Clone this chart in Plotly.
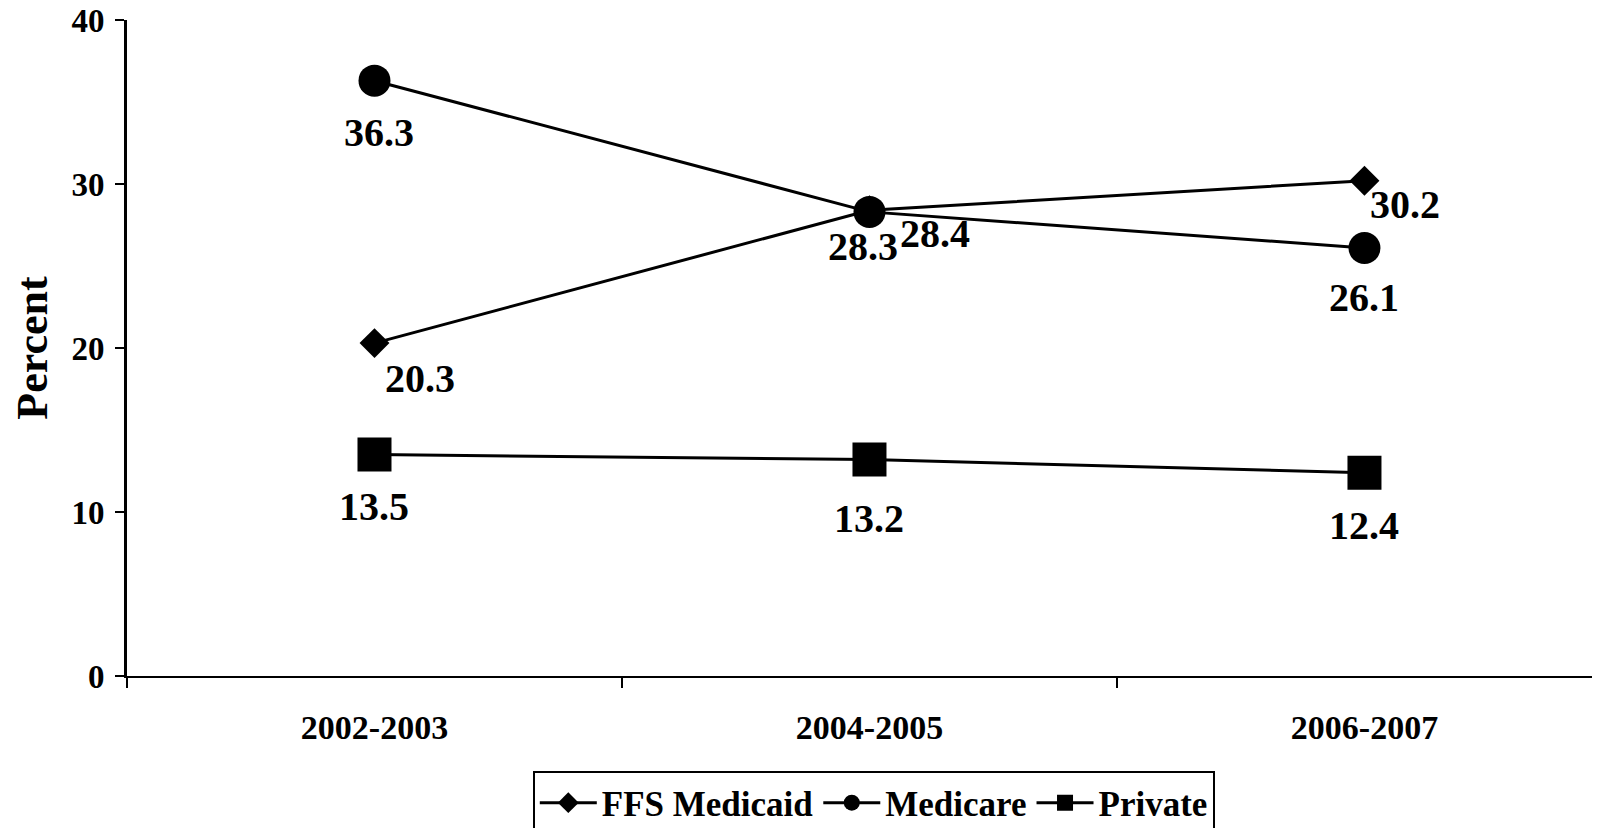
import plotly.graph_objects as go

categories = ["2002-2003", "2004-2005", "2006-2007"]
ffs_medicaid = [20.3, 28.4, 30.2]
medicare = [36.3, 28.3, 26.1]
private = [13.5, 13.2, 12.4]
y_ticks = [0, 10, 20, 30, 40]

# label offsets (pixels) per point: (xshift, yshift)
ffs_offsets = [(46, -35), (66, -23), (41, -24)]
medicare_offsets = [(5, -52), (-6, -35), (0, -50)]
private_offsets = [(0, -52), (0, -59), (0, -53)]

FONT = "Liberation Serif"

fig = go.Figure()
fig.add_trace(go.Scatter(
    x=categories, y=ffs_medicaid, name="FFS Medicaid", mode="lines+markers",
    line=dict(color="black", width=3),
    marker=dict(symbol="diamond", size=23, color="black"),
))
fig.add_trace(go.Scatter(
    x=categories, y=medicare, name="Medicare", mode="lines+markers",
    line=dict(color="black", width=3),
    marker=dict(symbol="circle", size=32, color="black"),
))
fig.add_trace(go.Scatter(
    x=categories, y=private, name="Private", mode="lines+markers",
    line=dict(color="black", width=3),
    marker=dict(symbol="square", size=34, color="black"),
))

annotations = []
for vals, offs in [(ffs_medicaid, ffs_offsets), (medicare, medicare_offsets), (private, private_offsets)]:
    for c, v, (dx, dy) in zip(categories, vals, offs):
        annotations.append(dict(
            x=c, y=v, xref="x", yref="y", text=f"{v:.1f}", showarrow=False,
            xshift=dx, yshift=dy,
            font=dict(family=FONT, size=40, color="black", weight="bold"),
        ))

fig.update_layout(
    width=1600, height=828,
    margin=dict(l=119, r=0, t=12, b=159.5, autoexpand=False),
    paper_bgcolor="white", plot_bgcolor="white",
    font=dict(family=FONT, color="black", weight="bold"),
    showlegend=True,
    legend=dict(
        orientation="h", x=0.274, xanchor="left", y=-0.1455, yanchor="top",
        bordercolor="black", borderwidth=2, bgcolor="white",
        font=dict(family=FONT, size=35, color="black", weight="bold"),
        itemwidth=57, tracegroupgap=0,
    ),
    annotations=annotations,
    xaxis=dict(
        type="category", range=[-0.5, 2.492], tickson="boundaries",
        showline=True, linecolor="black", linewidth=2,
        ticks="outside", ticklen=10, tickwidth=2, tickcolor="black",
        showgrid=False, zeroline=False, automargin=False,
        tickfont=dict(family=FONT, size=34, color="black", weight="bold"),
        ticklabelstandoff=20,
    ),
    yaxis=dict(
        range=[0, 40], tickvals=y_ticks, ticktext=[str(t) for t in y_ticks],
        showline=True, linecolor="black", linewidth=3,
        ticks="outside", ticklen=9, tickwidth=2, tickcolor="black",
        showgrid=False, zeroline=False, automargin=False,
        ticklabeloverflow="allow",
        tickfont=dict(family=FONT, size=33, color="black", weight="bold"),
        ticklabelstandoff=4,
        title=dict(text="Percent", font=dict(family=FONT, size=44, color="black", weight="bold"), standoff=19),
    ),
)

fig.write_html("out.html")
